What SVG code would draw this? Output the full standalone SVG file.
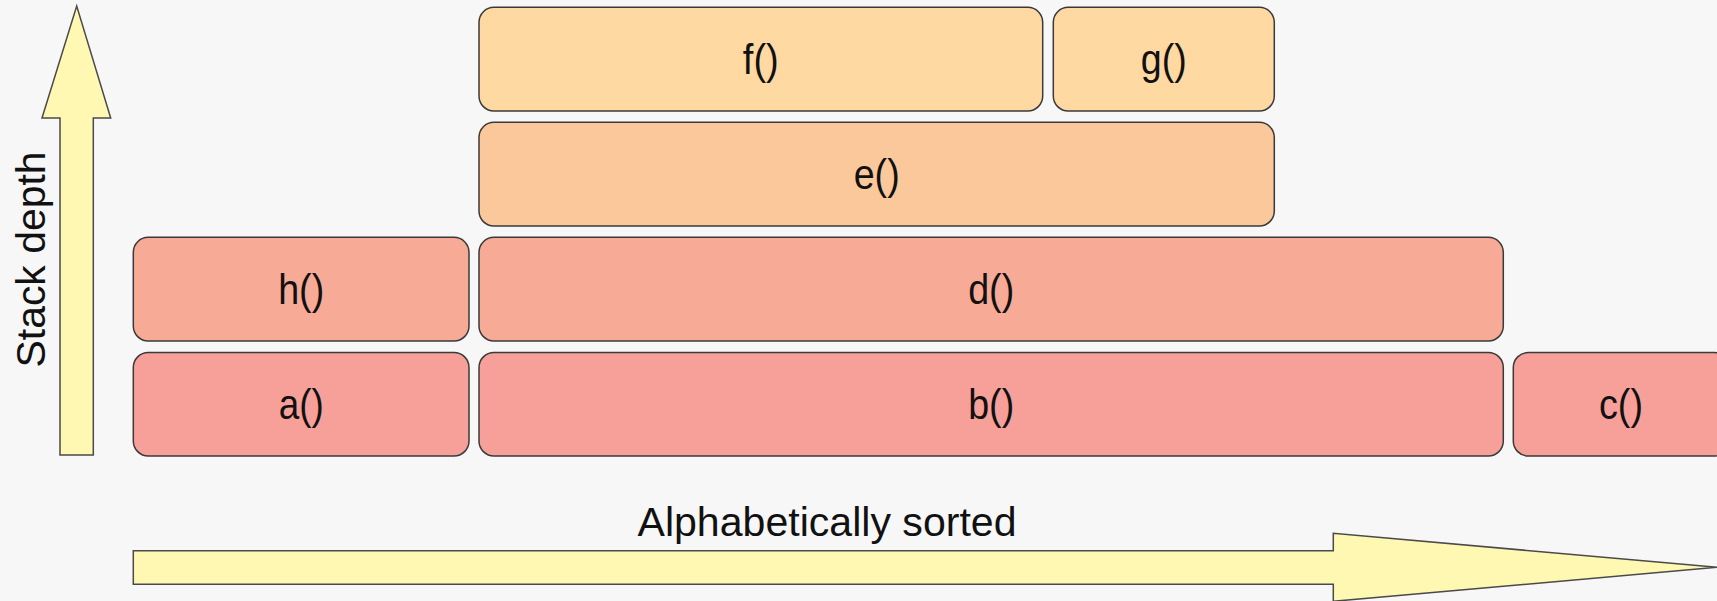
<svg xmlns="http://www.w3.org/2000/svg" width="1717" height="601" viewBox="0 0 1717 601">
  <style>
    .frame { stroke: #3a3a3a; stroke-width: 1.5; }
    .lvl1 { fill: #f7a09a; }
    .lvl2 { fill: #f7aa96; }
    .lvl3 { fill: #fbc89b; }
    .lvl4 { fill: #ffd9a1; }
    .axis { fill: #fff8b2; stroke: #4a4a4a; stroke-width: 1.5; stroke-linejoin: miter; }
    .fn { font-family: "Liberation Sans", Arial, sans-serif; font-size: 42px; fill: #111; text-anchor: middle; }
    .caption { font-family: "Liberation Sans", Arial, sans-serif; font-size: 40px; fill: #111; text-anchor: middle; }
  </style>
  <rect width="1717" height="601" fill="#f7f7f7"/>

  <!-- axes -->
  <g id="axes">
    <polygon class="axis" points="60,455 60,118 42,118 76.7,6 110.7,118 93.3,118 93.3,455"/>
    <text class="caption" transform="translate(45,259.5) rotate(-90)" textLength="216" lengthAdjust="spacingAndGlyphs">Stack depth</text>
    <polygon class="axis" points="133.3,550.7 1333.3,550.7 1333.3,533.3 1717,567.3 1333.3,601.3 1333.3,584.3 133.3,584.3"/>
    <text class="caption" x="827" y="535.7" font-size="39" textLength="379" lengthAdjust="spacingAndGlyphs">Alphabetically sorted</text>
  </g>

  <!-- depth 1 -->
  <g id="node-a">
    <rect class="frame lvl1" x="133.3" y="352.5" width="335.7" height="103.5" rx="15"/>
    <text class="fn" x="301.2" y="419" textLength="45" lengthAdjust="spacingAndGlyphs">a()</text>
  </g>
  <g id="node-b">
    <rect class="frame lvl1" x="479" y="352.5" width="1024.3" height="103.5" rx="15"/>
    <text class="fn" x="991.2" y="419" textLength="46" lengthAdjust="spacingAndGlyphs">b()</text>
  </g>
  <g id="node-c">
    <rect class="frame lvl1" x="1513.3" y="352.5" width="216" height="103.5" rx="15"/>
    <text class="fn" x="1621" y="419" textLength="44" lengthAdjust="spacingAndGlyphs">c()</text>
  </g>

  <!-- depth 2 -->
  <g id="node-h">
    <rect class="frame lvl2" x="133.3" y="237.3" width="335.7" height="103.7" rx="15"/>
    <text class="fn" x="301.2" y="303.5" textLength="46" lengthAdjust="spacingAndGlyphs">h()</text>
  </g>
  <g id="node-d">
    <rect class="frame lvl2" x="479" y="237.3" width="1024.3" height="103.7" rx="15"/>
    <text class="fn" x="991.2" y="303.5" textLength="46" lengthAdjust="spacingAndGlyphs">d()</text>
  </g>

  <!-- depth 3 -->
  <g id="node-e">
    <rect class="frame lvl3" x="479" y="122.3" width="795.3" height="103.7" rx="15"/>
    <text class="fn" x="876.7" y="188.5" textLength="46" lengthAdjust="spacingAndGlyphs">e()</text>
  </g>

  <!-- depth 4 -->
  <g id="node-f">
    <rect class="frame lvl4" x="479" y="7.3" width="563.7" height="103.7" rx="15"/>
    <text class="fn" x="760.8" y="73.7" textLength="36" lengthAdjust="spacingAndGlyphs">f()</text>
  </g>
  <g id="node-g">
    <rect class="frame lvl4" x="1053.3" y="7.3" width="221" height="103.7" rx="15"/>
    <text class="fn" x="1163.8" y="73.7" textLength="46" lengthAdjust="spacingAndGlyphs">g()</text>
  </g>

  <!-- no connectors in this chart -->
  <g id="connectors"/>
</svg>
